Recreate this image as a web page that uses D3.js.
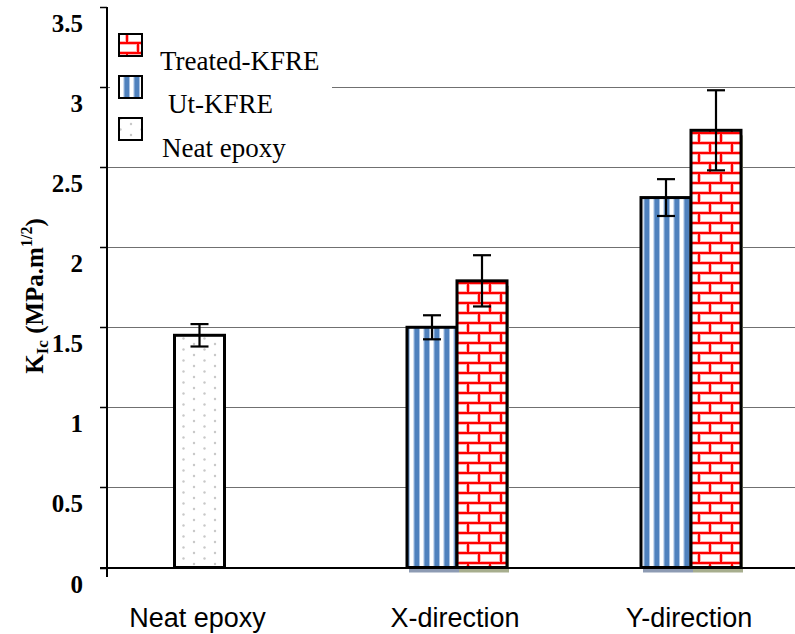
<!DOCTYPE html>
<html>
<head>
<meta charset="utf-8">
<script src="https://cdn.jsdelivr.net/npm/d3@7/dist/d3.min.js"></script>
<style>
  html, body { margin: 0; padding: 0; background: #fff; }
  svg { display: block; }
</style>
</head>
<body>
<svg id="chart" width="795" height="634"></svg>
<script>
// ---------- data ----------
const categories = ["Neat epoxy", "X-direction", "Y-direction"];
const seriesNames = ["Treated-KFRE", "Ut-KFRE", "Neat epoxy"];
const neatValues    = [1.45, null, null];
const neatErrors    = [0.07, null, null];
const utValues      = [null, 1.50, 2.31];
const utErrors      = [null, 0.075, 0.115];
const treatedValues = [null, 1.79, 2.73];
const treatedErrors = [null, 0.16, 0.25];
const yTicks = [0, 0.5, 1, 1.5, 2, 2.5, 3, 3.5];
const yTickLabels = ["0", "0.5", "1", "1.5", "2", "2.5", "3", "3.5"];

// ---------- layout ----------
const W = 795, H = 634;
const axisX = 107;
const svg = d3.select("#chart");

const y = d3.scaleLinear().domain([0, 3.5]).range([567.5, 7]);
const x = d3.scaleOrdinal().domain(categories).range([199.5, 457, 691]);
const barW = 50;

const defs = svg.append("defs");
// dotted pattern (neat epoxy)
const pd = defs.append("pattern").attr("id", "dots").attr("patternUnits", "userSpaceOnUse")
  .attr("width", 21).attr("height", 11);
pd.append("rect").attr("width", 21).attr("height", 11).attr("fill", "#fff");
pd.append("circle").attr("cx", 5).attr("cy", 3).attr("r", 1.2).attr("fill", "#c8c8c8");
pd.append("circle").attr("cx", 15.5).attr("cy", 8.5).attr("r", 1.2).attr("fill", "#c8c8c8");

// vertical stripes (Ut-KFRE)
const lg = defs.append("linearGradient").attr("id", "stripeGrad")
  .attr("x1", 0).attr("x2", 1).attr("y1", 0).attr("y2", 0);
[[0, "#ffffff"], [0.18, "#ffffff"], [0.3, "#a9c3e4"], [0.4, "#4f81bd"], [0.75, "#4f81bd"], [0.85, "#a9c3e4"], [0.95, "#ffffff"], [1, "#ffffff"]]
  .forEach(([o, c]) => lg.append("stop").attr("offset", o).attr("stop-color", c));
const ps = defs.append("pattern").attr("id", "stripes").attr("patternUnits", "userSpaceOnUse")
  .attr("width", 10).attr("height", 10).attr("x", 1);
ps.append("rect").attr("width", 10).attr("height", 10).attr("fill", "url(#stripeGrad)");

// brick pattern (Treated-KFRE)
const pb = defs.append("pattern").attr("id", "bricks").attr("patternUnits", "userSpaceOnUse")
  .attr("width", 22).attr("height", 20).attr("x", 2).attr("y", 3);
pb.append("rect").attr("width", 22).attr("height", 20).attr("fill", "#fff");
const brickLines = [
  [0, 0, 22, 0], [0, 10, 22, 10], [0, 20, 22, 20],
  [4, 0, 4, 10], [15, 10, 15, 20]
];
brickLines.forEach(l => pb.append("line").attr("x1", l[0]).attr("y1", l[1]).attr("x2", l[2]).attr("y2", l[3])
  .attr("stroke", "#ffb3b3").attr("stroke-width", 4));
brickLines.forEach(l => pb.append("line").attr("x1", l[0]).attr("y1", l[1]).attr("x2", l[2]).attr("y2", l[3])
  .attr("stroke", "#ff0000").attr("stroke-width", 2));

// ---------- gridlines ----------
svg.append("g").selectAll("line").data(yTicks.filter(t => t > 0 && t < 3.5)).join("line")
  .attr("x1", axisX).attr("x2", W)
  .attr("y1", d => Math.round(y(d)) + 0.5).attr("y2", d => Math.round(y(d)) + 0.5)
  .attr("stroke", "#707070").attr("stroke-width", 1);

// ---------- bars ----------
const seriesDefs = [
  { name: "Ut-KFRE", values: utValues, errors: utErrors, fill: "url(#stripes)", shadow: "#8d9bb3" },
  { name: "Treated-KFRE", values: treatedValues, errors: treatedErrors, fill: "url(#bricks)", shadow: "#a7ae8e" },
  { name: "Neat epoxy", values: neatValues, errors: neatErrors, fill: "url(#dots)", shadow: null }
];

const barData = [];
categories.forEach((cat, ci) => {
  const present = seriesDefs.filter(s => s.values[ci] != null);
  const sub = d3.scaleBand().domain(present.map(s => s.name))
    .range([-present.length * barW / 2, present.length * barW / 2]);
  present.forEach(s => {
    barData.push({
      cat, series: s.name, value: s.values[ci], err: s.errors[ci],
      fill: s.fill, shadow: s.shadow,
      x0: x(cat) + sub(s.name), w: sub.bandwidth()
    });
  });
});

const gBars = svg.append("g");
gBars.selectAll("rect.shadow").data(barData.filter(d => d.shadow)).join("rect")
  .attr("class", "shadow")
  .attr("x", d => d.x0 + 2).attr("y", d => y(d.value) + 5)
  .attr("width", d => d.w).attr("height", d => y(0) - y(d.value))
  .attr("fill", d => d.shadow);
gBars.selectAll("rect.bar").data(barData).join("rect")
  .attr("class", "bar")
  .attr("x", d => d.x0).attr("y", d => y(d.value))
  .attr("width", d => d.w).attr("height", d => y(0) - y(d.value))
  .attr("fill", d => d.fill)
  .attr("stroke", "#000").attr("stroke-width", 3);

// ---------- error bars ----------
const gErr = svg.append("g").attr("stroke", "#000").attr("stroke-width", 2.2);
barData.forEach(d => {
  const cx = d.x0 + d.w / 2;
  gErr.append("line").attr("x1", cx).attr("x2", cx).attr("y1", y(d.value + d.err)).attr("y2", y(d.value - d.err));
  gErr.append("line").attr("x1", cx - 9).attr("x2", cx + 9).attr("y1", y(d.value + d.err)).attr("y2", y(d.value + d.err));
  gErr.append("line").attr("x1", cx - 9).attr("x2", cx + 9).attr("y1", y(d.value - d.err)).attr("y2", y(d.value - d.err));
});

// ---------- axes ----------
svg.append("line").attr("x1", axisX).attr("x2", axisX).attr("y1", y(3.5)).attr("y2", 577)
  .attr("stroke", "#000").attr("stroke-width", 2);
svg.append("line").attr("x1", 100).attr("x2", W).attr("y1", y(0) + 0.5).attr("y2", y(0) + 0.5)
  .attr("stroke", "#000").attr("stroke-width", 2);
svg.append("g").selectAll("line").data(yTicks).join("line")
  .attr("x1", 100).attr("x2", axisX)
  .attr("y1", d => Math.round(y(d)) + 0.5).attr("y2", d => Math.round(y(d)) + 0.5)
  .attr("stroke", "#000").attr("stroke-width", 1.5);
svg.append("g").selectAll("text").data(yTicks).join("text")
  .attr("x", 83).attr("y", d => y(d) + 25)
  .attr("text-anchor", "end")
  .attr("font-family", "'Liberation Serif', 'Times New Roman', serif")
  .attr("font-weight", "bold").attr("font-size", 25)
  .text((d, i) => yTickLabels[i]);

// category labels
svg.append("g").selectAll("text").data(categories).join("text")
  .attr("x", d => x(d) - 2).attr("y", 627)
  .attr("text-anchor", "middle")
  .attr("font-family", "'Liberation Sans', Arial, sans-serif")
  .attr("font-size", 27)
  .text(d => d);

// y title
const yt = svg.append("text")
  .attr("transform", "translate(43,296) rotate(-90)")
  .attr("text-anchor", "middle")
  .attr("font-family", "'Liberation Serif', 'Times New Roman', serif")
  .attr("font-weight", "bold").attr("font-size", 25);
yt.append("tspan").text("K");
yt.append("tspan").attr("font-size", 17).attr("dy", 5).text("Ic");
yt.append("tspan").attr("dy", -5).text(" (MPa.m");
yt.append("tspan").attr("font-size", 16).attr("dy", -11).text("1/2");
yt.append("tspan").attr("dy", 11).text(")");

// ---------- legend ----------
const gLeg = svg.append("g");
gLeg.append("rect").attr("x", 110).attr("y", 12).attr("width", 222).attr("height", 150).attr("fill", "#fff");
const legendItems = [
  { name: seriesNames[0], fill: "url(#bricks)", boxY: 34, tx: 160, ty: 70 },
  { name: seriesNames[1], fill: "url(#stripes)", boxY: 76, tx: 168, ty: 113 },
  { name: seriesNames[2], fill: "url(#dots)", boxY: 118, tx: 162, ty: 157 }
];
legendItems.forEach(it => {
  gLeg.append("rect").attr("x", 119).attr("y", it.boxY).attr("width", 23).attr("height", 22)
    .attr("fill", it.fill).attr("stroke", "#000").attr("stroke-width", 2);
  gLeg.append("text").attr("x", it.tx).attr("y", it.ty)
    .attr("font-family", "'Liberation Serif', 'Times New Roman', serif")
    .attr("font-size", 27).text(it.name);
});
</script>
</body>
</html>
